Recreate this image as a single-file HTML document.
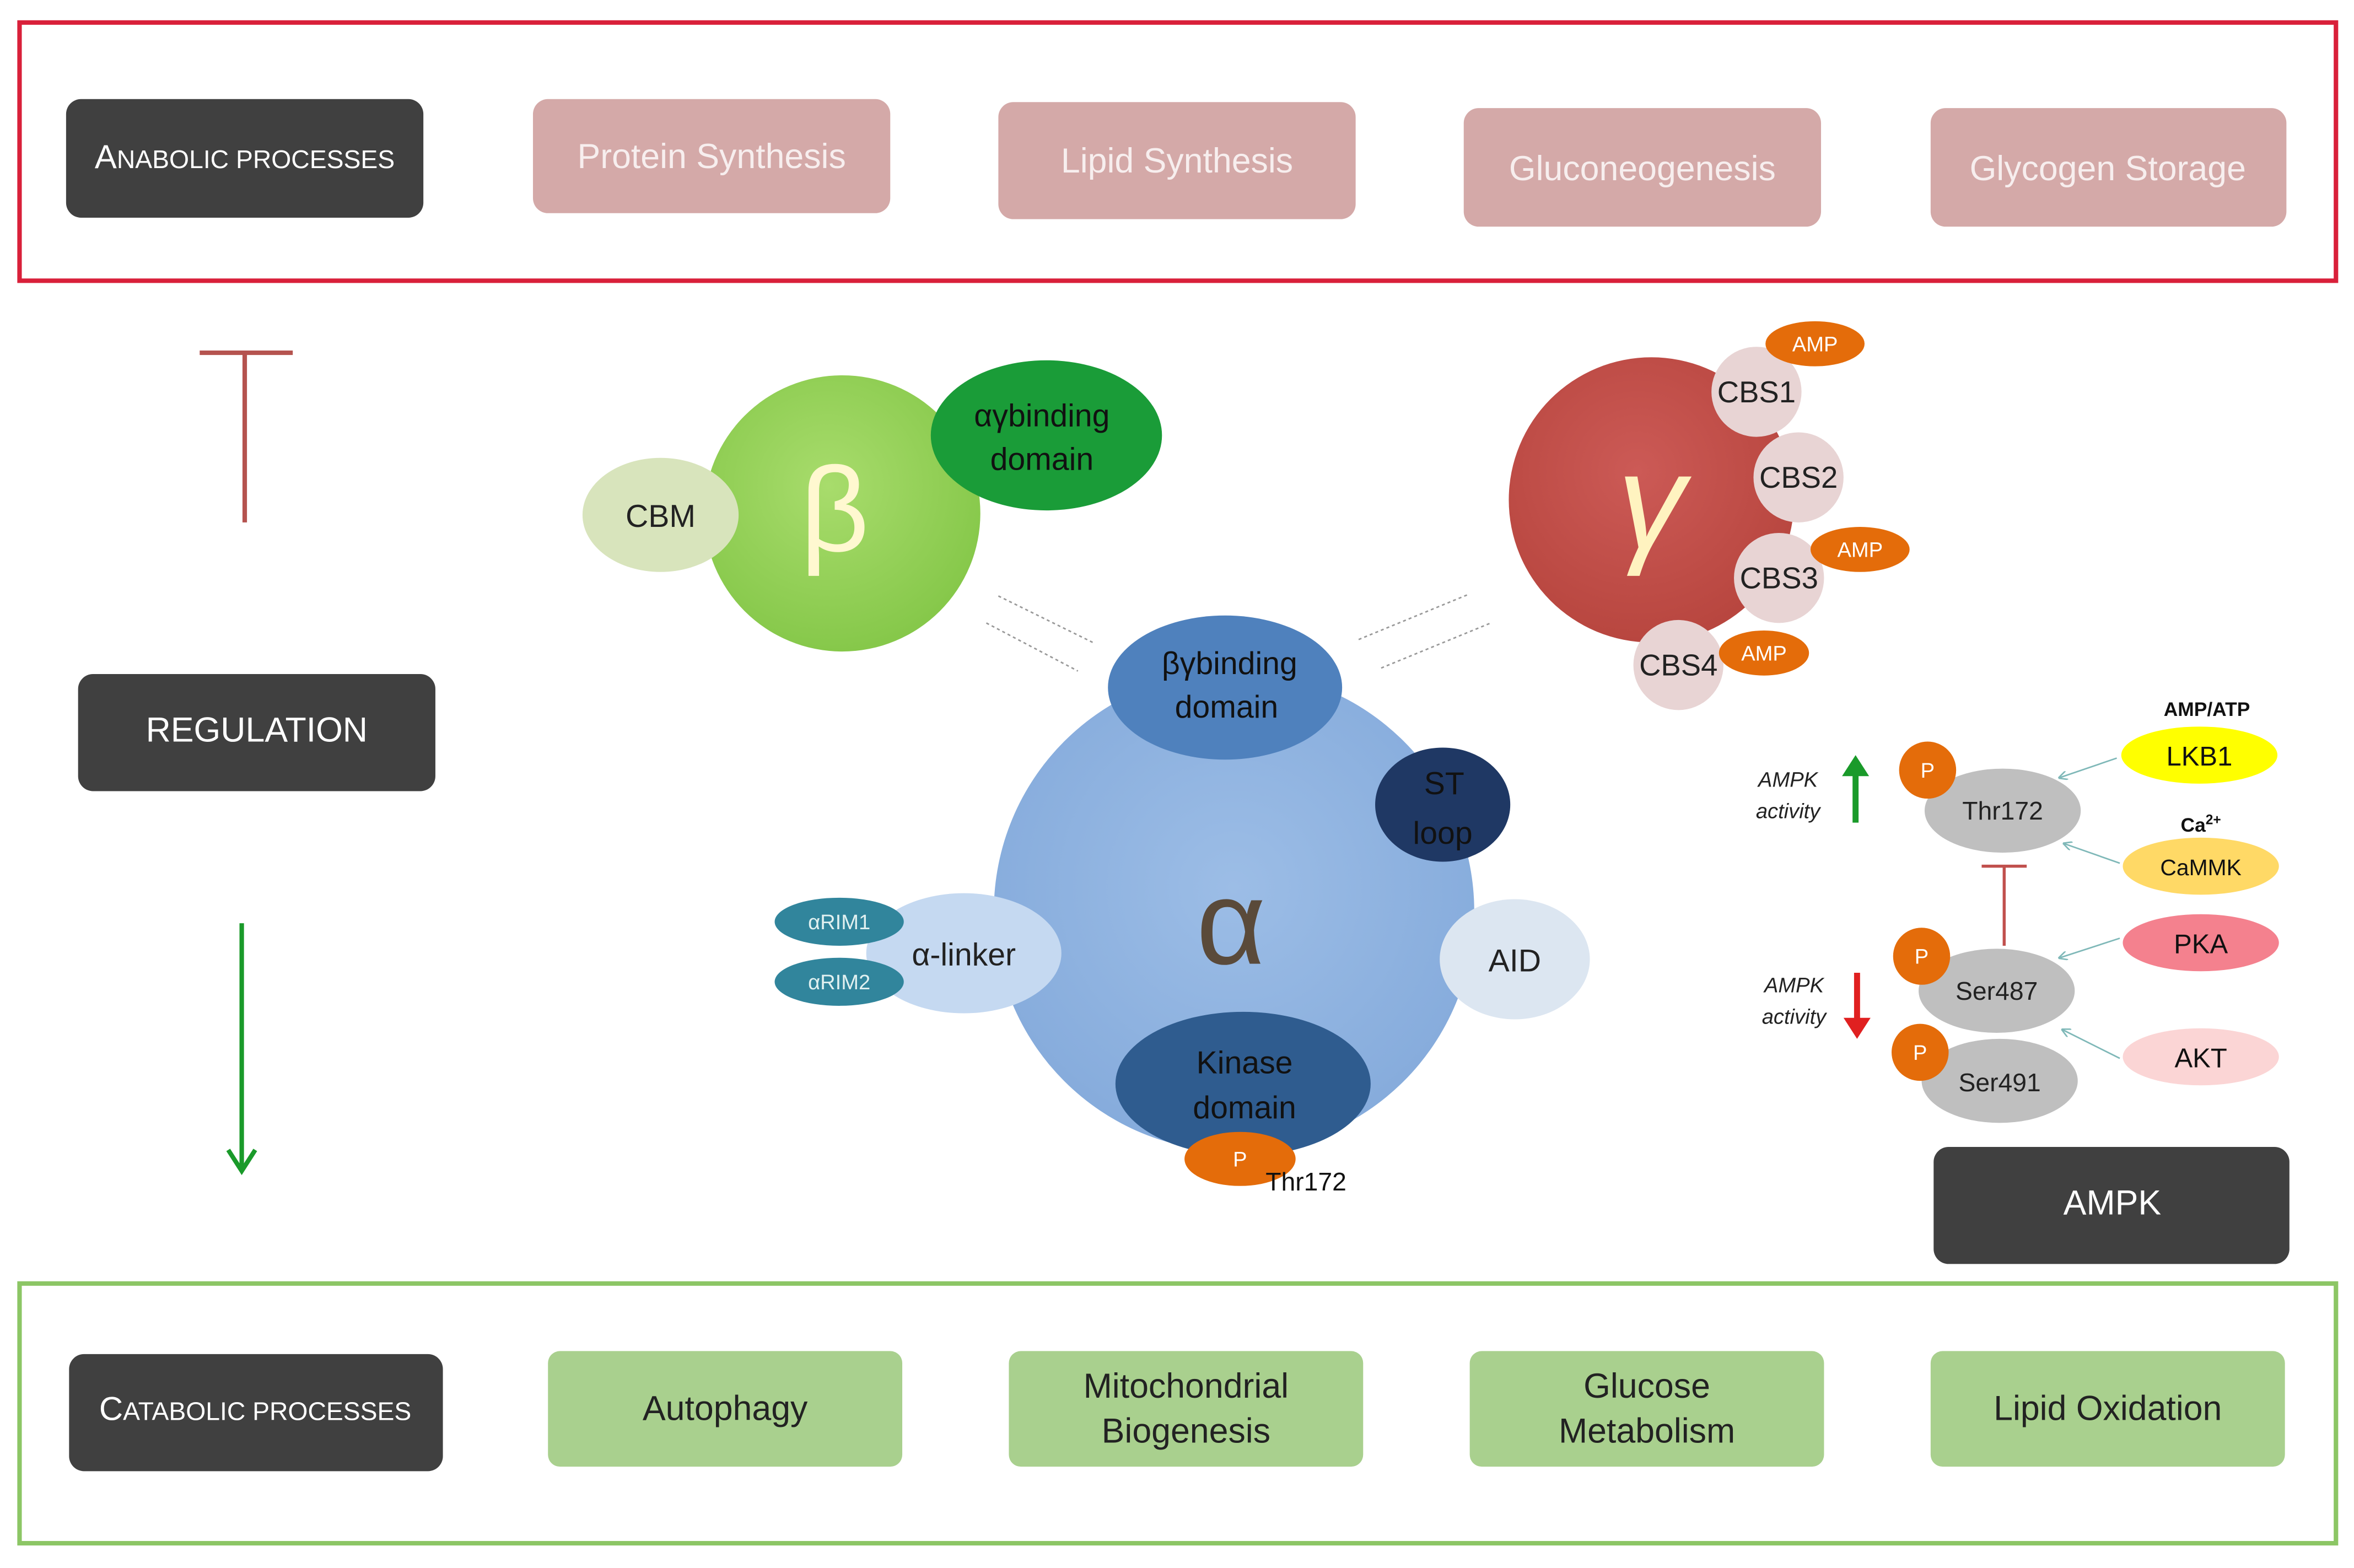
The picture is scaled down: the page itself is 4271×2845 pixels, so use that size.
<!DOCTYPE html>
<html><head><meta charset="utf-8"><style>
html,body{margin:0;padding:0;background:#fff;}
svg{display:block;}
text{font-family:"Liberation Sans",sans-serif;}
</style></head><body>
<svg width="4271" height="2845" viewBox="0 0 1568 1044.5" xmlns="http://www.w3.org/2000/svg">
<defs>
<radialGradient id="gb" cx="0.45" cy="0.4" r="0.6"><stop offset="0" stop-color="#a8dc6c"/><stop offset="1" stop-color="#86c84a"/></radialGradient>
<radialGradient id="gg" cx="0.45" cy="0.4" r="0.6"><stop offset="0" stop-color="#cc5a56"/><stop offset="1" stop-color="#b8463f"/></radialGradient>
<radialGradient id="ga" cx="0.5" cy="0.45" r="0.6"><stop offset="0" stop-color="#9cbde6"/><stop offset="1" stop-color="#84aadb"/></radialGradient>
<marker id="ag" markerWidth="8" markerHeight="8" refX="4" refY="4" orient="auto"><path d="M0,0 L8,4 L0,8" fill="none" stroke="#1a9a2a" stroke-width="1.5"/></marker>
<marker id="at" markerWidth="6" markerHeight="6" refX="5" refY="3" orient="auto"><path d="M0,0 L6,3 L0,6" fill="none" stroke="#7fb8b8" stroke-width="1"/></marker>
</defs>
<rect width="1568" height="1044.5" fill="#fff"/>
<!-- top box -->
<rect x="13" y="15" width="1543" height="172" fill="none" stroke="#d9203a" stroke-width="3"/>
<rect x="44" y="66" width="238" height="79" rx="10" fill="#404040"/>
<text x="163" y="112" text-anchor="middle" fill="#fff" font-size="22">A<tspan font-size="17">NABOLIC PROCESSES</tspan></text>
<g fill="#d4a9a8"><rect x="355" y="66" width="238" height="76" rx="10"/><rect x="665" y="68" width="238" height="78" rx="10"/><rect x="975" y="72" width="238" height="79" rx="10"/><rect x="1286" y="72" width="237" height="79" rx="10"/></g>
<g fill="#f7eeee" font-size="23" text-anchor="middle"><text x="474" y="112">Protein Synthesis</text><text x="784" y="115">Lipid Synthesis</text><text x="1094" y="120">Gluconeogenesis</text><text x="1404" y="120">Glycogen Storage</text></g>
<!-- regulation -->
<path d="M133,235 H195 M163,235 V348" stroke="#b5534f" stroke-width="3" fill="none"/>
<rect x="52" y="449" width="238" height="78" rx="10" fill="#404040"/>
<text x="171" y="494" text-anchor="middle" fill="#fff" font-size="23">REGULATION</text>
<path d="M161,615 V778" stroke="#1a9a2a" stroke-width="3" fill="none"/>
<path d="M152,766 L161,780 L170,766" stroke="#1a9a2a" stroke-width="3" fill="none"/>
<!-- bottom box -->
<rect x="13" y="855" width="1543" height="173" fill="none" stroke="#8cc665" stroke-width="3"/>
<rect x="46" y="902" width="249" height="78" rx="10" fill="#404040"/>
<text x="170" y="946" text-anchor="middle" fill="#fff" font-size="22">C<tspan font-size="17">ATABOLIC PROCESSES</tspan></text>
<g fill="#a9d08e"><rect x="365" y="900" width="236" height="77" rx="8"/><rect x="672" y="900" width="236" height="77" rx="8"/><rect x="979" y="900" width="236" height="77" rx="8"/><rect x="1286" y="900" width="236" height="77" rx="8"/></g>
<g fill="#222" font-size="23" text-anchor="middle"><text x="483" y="946">Autophagy</text><text x="790" y="931">Mitochondrial</text><text x="790" y="961">Biogenesis</text><text x="1097" y="931">Glucose</text><text x="1097" y="961">Metabolism</text><text x="1404" y="946">Lipid Oxidation</text></g>
<rect x="1288" y="764" width="237" height="78" rx="10" fill="#404040"/>
<text x="1407" y="809" text-anchor="middle" fill="#fff" font-size="23">AMPK</text>
<!-- dashed connectors -->
<g stroke="#999" stroke-width="1" stroke-dasharray="2,2"><path d="M665,397 L728,428"/><path d="M657,415 L718,447"/><path d="M905,426 L978,396"/><path d="M920,445 L993,415"/></g>
<!-- beta -->
<circle cx="561" cy="342" r="92" fill="url(#gb)"/>
<ellipse cx="697" cy="290" rx="77" ry="50" fill="#1a9c38"/>
<text x="694" y="284" text-anchor="middle" font-size="21" fill="#111">αγbinding</text><text x="694" y="313" text-anchor="middle" font-size="21" fill="#111">domain</text>
<ellipse cx="440" cy="343" rx="52" ry="38" fill="#d8e4bc"/>
<text x="440" y="351" text-anchor="middle" font-size="21" fill="#222">CBM</text>
<text x="556" y="367" text-anchor="middle" font-size="80" fill="#fff8d0" font-family="Liberation Serif,serif">β</text>
<!-- gamma -->
<circle cx="1100" cy="333" r="95" fill="url(#gg)"/>
<text x="1100" y="365" text-anchor="middle" font-size="90" fill="#fff3c0" font-family="Liberation Serif,serif" font-style="italic">γ</text>
<g fill="#e8d4d4"><circle cx="1170" cy="261" r="30"/><circle cx="1198" cy="318" r="30"/><circle cx="1185" cy="385" r="30"/><circle cx="1118" cy="443" r="30"/></g>
<g font-size="20" text-anchor="middle" fill="#222"><text x="1170" y="268">CBS1</text><text x="1198" y="325">CBS2</text><text x="1185" y="392">CBS3</text><text x="1118" y="450">CBS4</text></g>
<g fill="#e46c0a"><ellipse cx="1209" cy="229" rx="33" ry="15"/><ellipse cx="1239" cy="366" rx="33" ry="15"/><ellipse cx="1175" cy="435" rx="30" ry="15"/></g>
<g font-size="14" text-anchor="middle" fill="#fff"><text x="1209" y="234">AMP</text><text x="1239" y="371">AMP</text><text x="1175" y="440">AMP</text></g>
<!-- alpha -->
<circle cx="822" cy="607" r="160" fill="url(#ga)"/>
<ellipse cx="816" cy="458" rx="78" ry="48" fill="#4f81bd"/>
<text x="819" y="449" text-anchor="middle" font-size="21" fill="#111">βγbinding</text><text x="817" y="478" text-anchor="middle" font-size="21" fill="#111">domain</text>
<ellipse cx="961" cy="536" rx="45" ry="38" fill="#1f3864"/>
<text x="962" y="529" text-anchor="middle" font-size="21" fill="#111">ST</text><text x="961" y="562" text-anchor="middle" font-size="21" fill="#111">loop</text>
<ellipse cx="1009" cy="639" rx="50" ry="40" fill="#dce6f1"/>
<text x="1009" y="647" text-anchor="middle" font-size="21" fill="#222">AID</text>
<ellipse cx="642" cy="635" rx="65" ry="40" fill="#c5d9f1"/>
<text x="642" y="643" text-anchor="middle" font-size="21" fill="#222">α-linker</text>
<g fill="#31859c"><ellipse cx="559" cy="614" rx="43" ry="16"/><ellipse cx="559" cy="654" rx="43" ry="16"/></g>
<g font-size="14" text-anchor="middle" fill="#e0f0f0"><text x="559" y="619">αRIM1</text><text x="559" y="659">αRIM2</text></g>
<text x="820" y="642" text-anchor="middle" font-size="80" fill="#5a4a3a" font-family="Liberation Serif,serif">α</text>
<ellipse cx="828" cy="722" rx="85" ry="48" fill="#2f5c8f"/>
<text x="829" y="715" text-anchor="middle" font-size="21" fill="#111">Kinase</text><text x="829" y="745" text-anchor="middle" font-size="21" fill="#111">domain</text>
<ellipse cx="826" cy="772" rx="37" ry="18" fill="#e46c0a"/>
<text x="826" y="777" text-anchor="middle" font-size="14" fill="#fff">P</text>
<text x="843" y="793" font-size="17" fill="#111">Thr172</text>
<!-- right panel -->
<g fill="#bfbfbf"><ellipse cx="1334" cy="540" rx="52" ry="28"/><ellipse cx="1330" cy="660" rx="52" ry="28"/><ellipse cx="1332" cy="720" rx="52" ry="28"/></g>
<g font-size="17" text-anchor="middle" fill="#222"><text x="1334" y="546">Thr172</text><text x="1330" y="666">Ser487</text><text x="1332" y="727">Ser491</text></g>
<g fill="#e46c0a"><circle cx="1284" cy="513" r="19"/><circle cx="1280" cy="637" r="19"/><circle cx="1279" cy="701" r="19"/></g>
<g font-size="14" text-anchor="middle" fill="#fff"><text x="1284" y="518">P</text><text x="1280" y="642">P</text><text x="1279" y="706">P</text></g>
<ellipse cx="1465" cy="503" rx="52" ry="19" fill="#ffff00"/>
<ellipse cx="1466" cy="577" rx="52" ry="19" fill="#ffd966"/>
<ellipse cx="1466" cy="628" rx="52" ry="19" fill="#f4818e"/>
<ellipse cx="1466" cy="704" rx="52" ry="19" fill="#fbd5d5"/>
<g font-size="18" text-anchor="middle" fill="#111"><text x="1465" y="510">LKB1</text><text x="1466" y="583" font-size="15">CaMMK</text><text x="1466" y="635">PKA</text><text x="1466" y="711">AKT</text></g>
<text x="1470" y="477" text-anchor="middle" font-size="13" font-weight="bold" fill="#111">AMP/ATP</text>
<text x="1466" y="554" text-anchor="middle" font-size="13" font-weight="bold" fill="#111">Ca<tspan font-size="9" dy="-5">2+</tspan></text>
<g stroke="#7fb8b8" stroke-width="1" fill="none" marker-end="url(#at)"><path d="M1410,505 L1372,518"/><path d="M1412,575 L1375,562"/><path d="M1412,625 L1372,638"/><path d="M1412,705 L1374,686"/></g>
<path d="M1320,577 H1350 M1335,577 V630" stroke="#c0504d" stroke-width="2" fill="none"/>
<path d="M1236,548 V508" stroke="#1a9a2a" stroke-width="4"/><path d="M1227,517 L1236,503 L1245,517" fill="#1a9a2a"/>
<path d="M1237,648 V686" stroke="#e02020" stroke-width="4"/><path d="M1228,678 L1237,692 L1246,678" fill="#e02020"/>
<g font-size="14" font-style="italic" text-anchor="middle" fill="#222"><text x="1191" y="524">AMPK</text><text x="1191" y="545">activity</text><text x="1195" y="661">AMPK</text><text x="1195" y="682">activity</text></g>
</svg>
</body></html>
